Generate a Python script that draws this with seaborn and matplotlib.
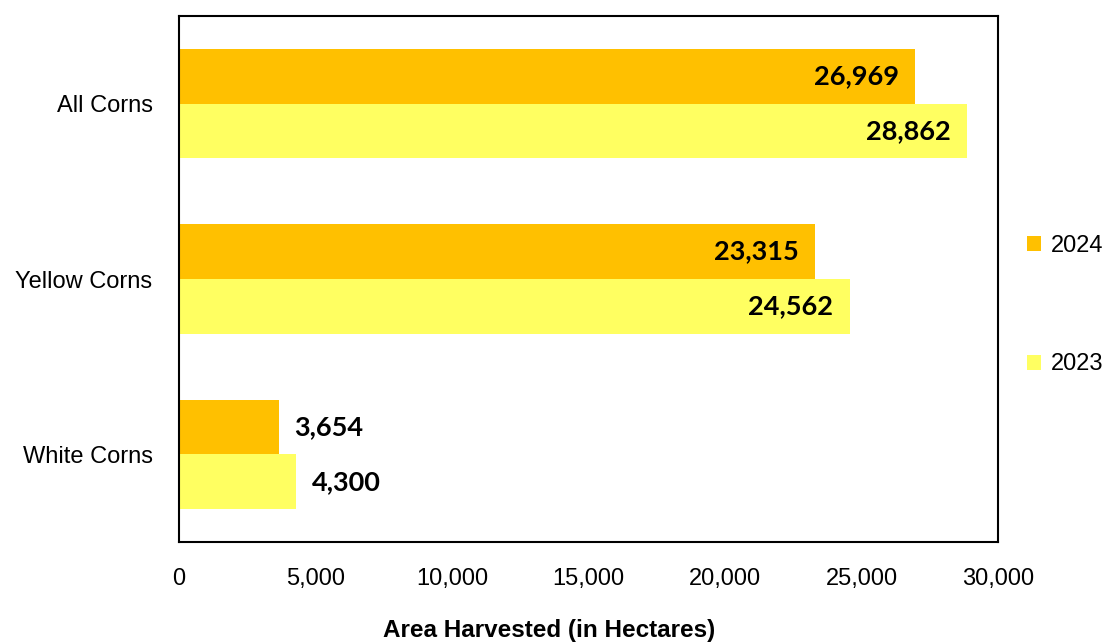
import pandas as pd
import matplotlib.pyplot as plt
import seaborn as sns

# Area harvested by corn type
categories = ['All Corns', 'Yellow Corns', 'White Corns']
years = ['2024', '2023']
area_2024 = [26969, 23315, 3654]
area_2023 = [28862, 24562, 4300]

df = pd.DataFrame({
    'type': categories * 2,
    'year': [years[0]] * 3 + [years[1]] * 3,
    'area': area_2024 + area_2023,
})

sns.set_style('white')
plt.rcParams['font.family'] = ['Liberation Sans', 'DejaVu Sans']
plt.rcParams['text.color'] = 'black'
plt.rcParams['xtick.color'] = 'black'
plt.rcParams['ytick.color'] = 'black'

fig = plt.figure(figsize=(11.05, 6.44), dpi=100)
ax = fig.add_axes([179 / 1105, 102 / 644, 819 / 1105, 526 / 644])

palette = {'2024': '#FFC000', '2023': '#FFFF61'}
sns.barplot(data=df, y='type', x='area', hue='year', hue_order=years,
            order=categories, palette=palette, width=0.625, orient='h',
            saturation=1, linewidth=0, ax=ax)

ax.set_xlim(0, 30000)
ax.set_ylim(2.5, -0.5)
ax.set_xticks(range(0, 30001, 5000))
ax.set_xticklabels(['0'] + [f'{v:,}' for v in range(5000, 30001, 5000)])
ax.tick_params(axis='both', length=0, labelsize=17)
ax.tick_params(axis='x', pad=19)
ax.tick_params(axis='y', pad=19)
ax.set_xlabel('')
ax.set_ylabel('')

for side in ax.spines.values():
    side.set_visible(True)
    side.set_color('black')
    side.set_linewidth(1.5)

# value labels
for cont in ax.containers:
    for bar in cont:
        w = bar.get_width()
        y = bar.get_y() + bar.get_height() / 2
        if w > 10000:
            ax.annotate(f'{w:,.0f}', (w, y), xytext=(-12, 0),
                        textcoords='offset points', ha='right', va='center',
                        fontsize=19.5, fontweight='bold', family='Lato')
        else:
            ax.annotate(f'{w:,.0f}', (w, y), xytext=(11, 0),
                        textcoords='offset points', ha='left', va='center',
                        fontsize=19.5, fontweight='bold', family='Lato')

ax.legend(loc='center left', bbox_to_anchor=(1027 / 1105, (644 - 305) / 644),
          bbox_transform=fig.transFigure, frameon=False, borderpad=0,
          borderaxespad=0, fontsize=17, labelspacing=4.1, handlelength=0.6,
          handleheight=0.6, handletextpad=0.4)

fig.text(549 / 1105, 13 / 644, 'Area Harvested (in Hectares)', ha='center',
         va='center', fontsize=17.5, fontweight='bold')

fig.savefig('out.png', dpi=100)
